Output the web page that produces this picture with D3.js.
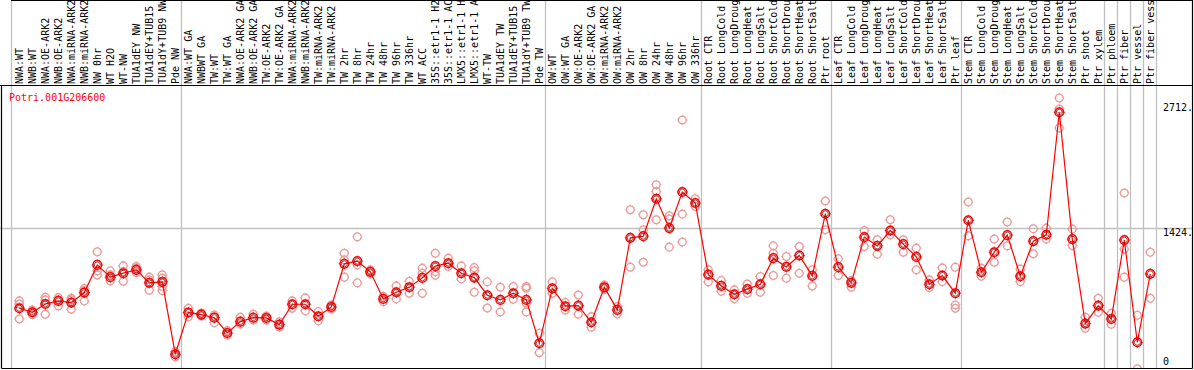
<!DOCTYPE html>
<html><head><meta charset="utf-8">
<script src="https://cdn.jsdelivr.net/npm/d3@7"></script>
<style>html,body{margin:0;padding:0;background:#fff;overflow:hidden}svg{display:block}text{font-family:"DejaVu Sans Mono",monospace;font-size:10px}</style>
</head><body>
<script>
const geneId = "Potri.001G206600";
const categories = [
 "NWA:WT","NWB:WT","NWA:OE-ARK2","NWB:OE-ARK2","NWA:miRNA-ARK2","NWB:miRNA-ARK2","NW 0hr","WT H2O","WT-NW","TUA1dEY NW","TUA1dEY+TUB15 NW","TUA1dY+TUB9 NW","Pde NW",
 "NWA:WT GA","NWBWT GA","TW:WT","TW:WT GA","NWA:OE-ARK2 GA","NWB:OE-ARK2 GA","TW:OE-ARK2","TW:OE-ARK2 GA","NWA:miRNA-ARK2","NWB:miRNA-ARK2","TW:miRNA-ARK2","TW:miRNA-ARK2","TW 2hr","TW 8hr","TW 24hr","TW 48hr","TW 96hr","TW 336hr","WT ACC","35S::etr1-1 H2O","35S::etr1-1 ACC","LMX5::etr1-1 H2O","LMX5::etr1-1 ACC","WT-TW","TUA1dEY TW","TUA1dEY+TUB15 TW","TUA1dY+TUB9 TW","Pde TW",
 "OW:WT","OW:WT GA","OW:OE-ARK2","OW:OE-ARK2 GA","OW:miRNA-ARK2","OW:miRNA-ARK2","OW 2hr","OW 8hr","OW 24hr","OW 48hr","OW 96hr","OW 336hr",
 "Root CTR","Root LongCold","Root LongDrought","Root LongHeat","Root LongSalt","Root ShortCold","Root ShortDrought","Root ShortHeat","Root ShortSalt","Ptr root",
 "Leaf CTR","Leaf LongCold","Leaf LongDrought","Leaf LongHeat","Leaf LongSalt","Leaf ShortCold","Leaf ShortDrought","Leaf ShortHeat","Leaf ShortSalt","Ptr leaf",
 "Stem CTR","Stem LongCold","Stem LongDrought","Stem LongHeat","Stem LongSalt","Stem ShortCold","Stem ShortDrought","Stem ShortHeat","Stem ShortSalt","Ptr shoot","Ptr xylem",
 "Ptr phloem","Ptr fiber","Ptr vessel","Ptr fiber vessel"
];
const means = [
 540,495,587,621,602,713,1020,884,928,965,821,832,29,
 493,469,435,265,391,435,432,358,584,584,451,554,1032,1062,943,643,717,773,876,1006,1039,928,879,684,632,706,632,151,
 760,562,569,384,773,521,1320,1339,1753,1428,1828,1706,
 912,787,695,751,806,1095,998,1124,898,1587,
 995,821,1328,1231,1401,1250,1109,806,902,706,
 1515,939,1161,1350,895,1284,1354,2712,1306,369,569,
 421,1295,162,921
];
const replicates = [
 [621,587,421],[521,493,471],[662,632,473],[657,632,565],[651,632,529],[757,735,621],[1165,954,909],[954,909,843],[1009,946,839],[1002,984,935],[884,854,740],[909,873,780,735],[58,0],
 [540,446],[487,454],[465,380],[291,243],[440,365],[473,410],[454,410],[388,332],[621,540],[654,510],[502,402],[576,532],[1150,1076,884],[1331,1020,821],[965,921],[671,613],[787,643],[839,706],[984,928,706],[1150,946,906],[1095,1002],[1009,865],[990,954,717],[832,543],[773,499],[780,640],[780,762,595,499],[262,47],
 [832,706],[602,521],[687,473],[446,329],[798,751],[557,476],[1631,995],[1576,1409,1050],[1909,1834,1520],[1565,1528,1217],[2627,1583,1273],[1753,1668],
 [965,832],[846,728],[743,646],[809,706],[891,717],[1231,1150,902],[1113,873],[1224,928],[965,787],[1728,1409],
 [1087,902],[846,773],[1401,1224],[1298,1139],[1520,1354],[1298,1161],[1206,965],[854,768],[987,835],[995,576,540],
 [1717,1342],[984,895],[1306,1050],[1495,1231],[973,835],[1420,1143],[1428,1306],[2871,2749,2538],[1417,1235],[440,318],[651,495],
 [484,362],[1817,1195,884],[462,-131],[1161,651]
];
const groupEnds = [12,40,52,62,72,83,84,85,86,87];
const yTicks = [0,1424,2712];

const W = 1194, H = 370;
const svg = d3.select("body").append("svg").attr("width", W).attr("height", H);

const x = d3.scalePoint().domain(d3.range(categories.length)).range([19.3, 1150.3]);
const step = x.step();
const y = d3.scaleLinear().domain([0, 2712]).range([356.9, 112.3]);

const plotTop = 85.5, plotBottom = 368.5, frameLeft = 1.5, frameRight = 1192.5;

// gray vertical separators (full height)
const sepX = [x(0) - 0.64 * step].concat(groupEnds.map(i => x(i) + 0.42 * step));
svg.append("g").selectAll("line").data(sepX).join("line")
  .attr("x1", d => Math.round(d) + 0.5).attr("x2", d => Math.round(d) + 0.5)
  .attr("y1", 0).attr("y2", plotBottom)
  .attr("stroke", "#c0c0c0").attr("stroke-width", 1.3);

// horizontal gridline
svg.append("line")
  .attr("x1", 0).attr("x2", frameRight)
  .attr("y1", Math.round(y(1424)) + 0.5).attr("y2", Math.round(y(1424)) + 0.5)
  .attr("stroke", "#c0c0c0").attr("stroke-width", 1.3);

// frame
const frame = svg.append("g").attr("stroke", "#000").attr("stroke-width", 1.2).attr("fill", "none");
frame.append("line").attr("x1", 0).attr("x2", frameRight + 0.5).attr("y1", plotTop).attr("y2", plotTop);
frame.append("line").attr("x1", frameLeft).attr("x2", frameRight).attr("y1", plotBottom).attr("y2", plotBottom);
frame.append("line").attr("x1", frameLeft).attr("x2", frameLeft).attr("y1", plotTop).attr("y2", plotBottom);
frame.append("line").attr("x1", frameRight).attr("x2", frameRight).attr("y1", 0).attr("y2", plotBottom);
frame.append("line").attr("x1", sepX[0]).attr("x2", frameRight).attr("y1", 0.5).attr("y2", 0.5);

// header labels
svg.append("g").selectAll("text").data(categories).join("text")
  .attr("transform", (d, i) => `translate(${x(i) + 3.8},84) rotate(-90)`)
  .attr("text-anchor", "start")
  .attr("fill", "#000")
  .text(d => d);

// y tick labels on right
svg.append("g").selectAll("text").data(yTicks).join("text")
  .attr("x", 1163)
  .attr("y", d => d === d3.max(yTicks) ? y(d) - 1.5 : y(d) + 7.8)
  .attr("fill", "#000")
  .text(d => d === 0 ? "0" : d + ".");

// gene id
svg.append("text").attr("x", 9).attr("y", 101).attr("fill", "#ff0000").text(geneId);

// clip
svg.append("clipPath").attr("id", "clip").append("rect")
  .attr("x", frameLeft + 0.5).attr("y", plotTop + 0.5)
  .attr("width", frameRight - frameLeft - 1).attr("height", plotBottom - plotTop - 1);
const plot = svg.append("g").attr("clip-path", "url(#clip)");

function marker(g, cx, cy, color, r, sw) {
  const m = g.append("g").attr("transform", `translate(${cx},${cy})`);
  m.append("circle").attr("r", r).attr("fill", "none").attr("stroke", color).attr("stroke-width", sw);
  [[0,-1],[0,1],[-1,0],[1,0]].forEach(([dx, dy]) => {
    m.append("line").attr("x1", dx * r).attr("y1", dy * r)
      .attr("x2", dx * (r + 1.2)).attr("y2", dy * (r + 1.2))
      .attr("stroke", color).attr("stroke-width", 1);
  });
  return m;
}

// replicates
const repG = plot.append("g");
replicates.forEach((reps, i) => {
  reps.forEach(v => marker(repG, x(i), y(v), "#eb9a9a", 3.9, 1.3));
});

// mean line
plot.append("path")
  .datum(means)
  .attr("fill", "none").attr("stroke", "#ff0000").attr("stroke-width", 1.2)
  .attr("d", d3.line().x((d, i) => x(i)).y(d => y(d)));

// mean markers
const meanG = plot.append("g");
means.forEach((v, i) => {
  const m = marker(meanG, x(i), y(v), "#ff0000", 4.3, 1.5);
  m.append("circle").attr("r", 3).attr("fill", "none").attr("stroke", "#700000").attr("stroke-width", 0.7);
});
</script>
</body></html>
